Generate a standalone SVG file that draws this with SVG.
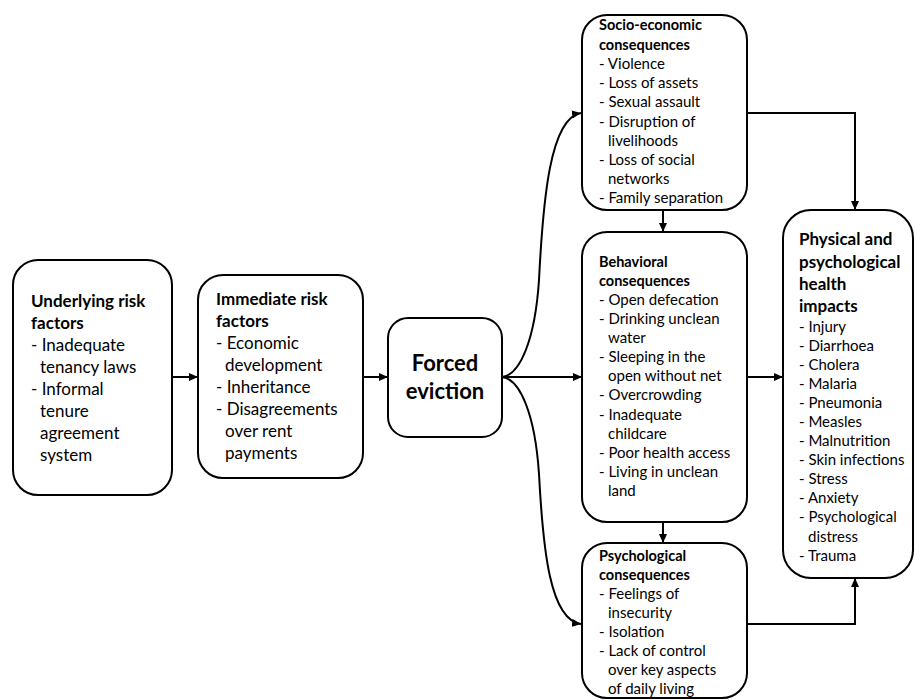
<svg xmlns="http://www.w3.org/2000/svg" width="915" height="700" viewBox="0 0 915 700">
<defs>
<marker id="ah" markerWidth="9" markerHeight="8" refX="9" refY="4" orient="auto" markerUnits="userSpaceOnUse">
<path d="M0,0 L9,4 L0,8 z" fill="#000"/>
</marker>
<style>
.box{fill:#fff;stroke:#000;stroke-width:2}
.c{fill:none;stroke:#000;stroke-width:2;marker-end:url(#ah)}
text{font-family:Lato,"Liberation Sans",sans-serif;fill:#000}
.h17{font-size:17px;font-weight:bold}
.t17{font-size:17px}
.h15{font-size:14.5px;font-weight:bold}
.t15{font-size:15px}
.big{font-size:22px;font-weight:bold}
</style>
</defs>
<rect width="915" height="700" fill="#fff"/>
<g id="connectors">
<line class="c" x1="172" y1="377" x2="198" y2="377"/>
<line class="c" x1="363" y1="377" x2="388" y2="377"/>
<line class="c" x1="502" y1="377" x2="582" y2="377"/>
<line class="c" x1="747" y1="377" x2="783" y2="377"/>
<line class="c" x1="663" y1="210" x2="663" y2="232"/>
<line class="c" x1="663" y1="522" x2="663" y2="543"/>
<polyline class="c" points="747,113 855,113 855,210"/>
<polyline class="c" points="747,624 855,624 855,578"/>
<path class="c" d="M502,377 C520,375 535,340 539,280 C543,200 550,118 581,113"/>
<path class="c" d="M502,377 C520,379 535,414 539,474 C543,550 550,620 581,624"/>
</g>
<g id="underlying">
<rect class="box" x="13" y="260" width="159" height="235" rx="25"/>
<text class="h17" x="31" y="307">Underlying risk</text>
<text class="h17" x="31" y="329">factors</text>
<text class="t17" x="31" y="351">- Inadequate</text>
<text class="t17" x="40" y="373">tenancy laws</text>
<text class="t17" x="31" y="395">- Informal</text>
<text class="t17" x="40" y="417">tenure</text>
<text class="t17" x="40" y="439">agreement</text>
<text class="t17" x="40" y="461">system</text>
</g>
<g id="immediate">
<rect class="box" x="198" y="275" width="165" height="203" rx="25"/>
<text class="h17" x="216" y="305">Immediate risk</text>
<text class="h17" x="216" y="327">factors</text>
<text class="t17" x="216" y="349">- Economic</text>
<text class="t17" x="225" y="371">development</text>
<text class="t17" x="216" y="393">- Inheritance</text>
<text class="t17" x="216" y="415">- Disagreements</text>
<text class="t17" x="225" y="437">over rent</text>
<text class="t17" x="225" y="459">payments</text>
</g>
<g id="eviction">
<rect class="box" x="388" y="318" width="114" height="119" rx="20"/>
<text class="big" x="445" y="371" text-anchor="middle">Forced</text>
<text class="big" x="445" y="399" text-anchor="middle">eviction</text>
</g>
<g id="socio">
<rect class="box" x="582" y="15" width="165" height="195" rx="25"/>
<text class="h15" x="599" y="30">Socio-economic</text>
<text class="h15" x="599" y="50">consequences</text>
<text class="t15" x="599" y="69">- Violence</text>
<text class="t15" x="599" y="88">- Loss of assets</text>
<text class="t15" x="599" y="107">- Sexual assault</text>
<text class="t15" x="599" y="127">- Disruption of</text>
<text class="t15" x="608" y="146">livelihoods</text>
<text class="t15" x="599" y="165">- Loss of social</text>
<text class="t15" x="608" y="184">networks</text>
<text class="t15" x="599" y="203">- Family separation</text>
</g>
<g id="behavioral">
<rect class="box" x="582" y="232" width="165" height="290" rx="25"/>
<text class="h15" x="599" y="267">Behavioral</text>
<text class="h15" x="599" y="286">consequences</text>
<text class="t15" x="599" y="305">- Open defecation</text>
<text class="t15" x="599" y="324">- Drinking unclean</text>
<text class="t15" x="608" y="343">water</text>
<text class="t15" x="599" y="362">- Sleeping in the</text>
<text class="t15" x="608" y="381">open without net</text>
<text class="t15" x="599" y="400">- Overcrowding</text>
<text class="t15" x="599" y="420">- Inadequate</text>
<text class="t15" x="608" y="439">childcare</text>
<text class="t15" x="599" y="458">- Poor health access</text>
<text class="t15" x="599" y="477">- Living in unclean</text>
<text class="t15" x="608" y="496">land</text>
</g>
<g id="psychological">
<rect class="box" x="582" y="543" width="165" height="155" rx="25"/>
<text class="h15" x="599" y="561">Psychological</text>
<text class="h15" x="599" y="580">consequences</text>
<text class="t15" x="599" y="599">- Feelings of</text>
<text class="t15" x="608" y="618">insecurity</text>
<text class="t15" x="599" y="637">- Isolation</text>
<text class="t15" x="599" y="656">- Lack of control</text>
<text class="t15" x="608" y="675">over key aspects</text>
<text class="t15" x="608" y="694">of daily living</text>
</g>
<g id="health">
<rect class="box" x="783" y="210" width="130" height="368" rx="28"/>
<text class="h17" x="799" y="245">Physical and</text>
<text class="h17" x="799" y="268">psychological</text>
<text class="h17" x="799" y="290">health</text>
<text class="h17" x="799" y="312">impacts</text>
<text class="t15" x="799" y="332">- Injury</text>
<text class="t15" x="799" y="351">- Diarrhoea</text>
<text class="t15" x="799" y="370">- Cholera</text>
<text class="t15" x="799" y="389">- Malaria</text>
<text class="t15" x="799" y="408">- Pneumonia</text>
<text class="t15" x="799" y="427">- Measles</text>
<text class="t15" x="799" y="446">- Malnutrition</text>
<text class="t15" x="799" y="465">- Skin infections</text>
<text class="t15" x="799" y="484">- Stress</text>
<text class="t15" x="799" y="503">- Anxiety</text>
<text class="t15" x="799" y="522">- Psychological</text>
<text class="t15" x="808" y="542">distress</text>
<text class="t15" x="799" y="561">- Trauma</text>
</g>
</svg>
